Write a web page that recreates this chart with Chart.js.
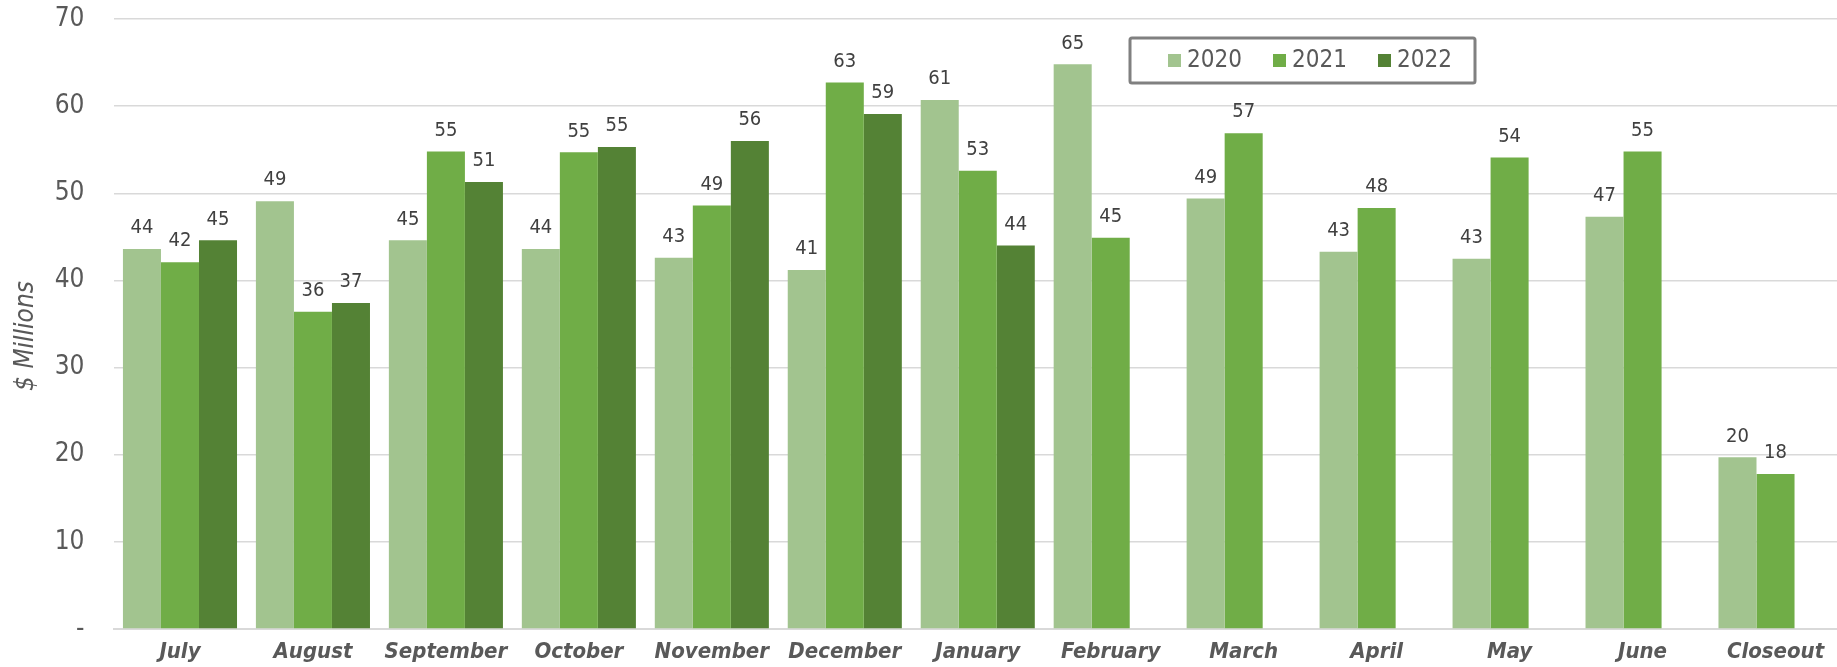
<!DOCTYPE html>
<html>
<head>
<meta charset="utf-8">
<script src="https://cdn.jsdelivr.net/npm/chart.js@4/dist/chart.umd.min.js"></script>
<style>
  html, body { margin: 0; padding: 0; background: #fff; overflow: hidden; }
  #wrap { width: 1842px; height: 667px; }
</style>
</head>
<body>
<div id="wrap"><canvas id="revenueChart"></canvas></div>
<script>
// Monthly collections, $ millions
var months = ['July', 'August', 'September', 'October', 'November', 'December',
  'January', 'February', 'March', 'April', 'May', 'June', 'Closeout'];
var fy2020 = [43.6, 49.1, 44.6, 43.6, 42.6, 41.2, 60.7, 64.8, 49.4, 43.3, 42.5, 47.3, 19.7];
var fy2021 = [42.1, 36.4, 54.8, 54.7, 48.6, 62.7, 52.6, 44.9, 56.9, 48.3, 54.1, 54.8, 17.8];
var fy2022 = [44.6, 37.4, 51.3, 55.3, 56.0, 59.1, 44.0, null, null, null, null, null, null];
var yTicks = [0, 10, 20, 30, 40, 50, 60, 70];

var FONT = '"DejaVu Sans Condensed", "DejaVu Sans", sans-serif';
var NUM_FONT = '"Liberation Sans Narrow", "DejaVu Sans Condensed", sans-serif';
var GREY = '#595959';

// value labels above each bar
var barLabels = {
  id: 'barLabels',
  afterDatasetsDraw: function (chart) {
    var ctx = chart.ctx;
    ctx.save();
    ctx.font = '20px ' + NUM_FONT;
    ctx.fillStyle = '#404040';
    ctx.textAlign = 'center';
    ctx.textBaseline = 'bottom';
    chart.data.datasets.forEach(function (ds, i) {
      chart.getDatasetMeta(i).data.forEach(function (bar, j) {
        var v = ds.data[j];
        if (v === null || v === undefined) return;
        ctx.fillText(Math.round(v), bar.x, bar.y - 11);
      });
    });
    ctx.restore();
  }
};

// boxed legend inside the plot and the rotated y title
var boxLegend = {
  id: 'boxLegend',
  afterDraw: function (chart) {
    var ctx = chart.ctx;
    ctx.save();
    ctx.strokeStyle = '#808080';
    ctx.lineWidth = 3;
    ctx.beginPath();
    ctx.roundRect(1130, 38, 345, 45, 2);
    ctx.stroke();
    ctx.font = '24px ' + NUM_FONT;
    ctx.textBaseline = 'middle';
    ctx.textAlign = 'left';
    chart.data.datasets.forEach(function (ds, i) {
      var x = 1168 + i * 105;
      ctx.fillStyle = ds.backgroundColor;
      ctx.fillRect(x, 54, 13, 13);
      ctx.fillStyle = GREY;
      ctx.fillText(ds.label, x + 19, 61);
    });

    ctx.translate(26, 336);
    ctx.rotate(-Math.PI / 2);
    ctx.textAlign = 'center';
    ctx.textBaseline = 'middle';
    ctx.font = 'italic 26px ' + FONT;
    ctx.fillText('$ Millions', 0, 0);
    ctx.restore();
  }
};

var ctx = document.getElementById('revenueChart');
new Chart(ctx, {
  type: 'bar',
  data: {
    labels: months,
    datasets: [
      { label: '2020', data: fy2020, backgroundColor: '#a2c48f' },
      { label: '2021', data: fy2021, backgroundColor: '#70ad47' },
      { label: '2022', data: fy2022, backgroundColor: '#548235' }
    ]
  },
  options: {
    responsive: true,
    maintainAspectRatio: false,
    animation: false,
    layout: { padding: { top: 19, right: 0, bottom: 0, left: 0 } },
    datasets: {
      bar: {
        categoryPercentage: 0.858,
        barPercentage: 1,
        borderWidth: 0
      }
    },
    scales: {
      x: {
        grid: { display: false },
        border: { color: '#d9d9d9', width: 2 },
        ticks: {
          color: GREY,
          padding: 2,
          font: { family: FONT, size: 22, weight: 'bold', style: 'italic' }
        },
        afterFit: function (scale) { scale.height = 38; }
      },
      y: {
        min: 0,
        max: 70,
        border: { display: false },
        // invisible tick marks keep the labels clear of the plot
        grid: { color: '#d9d9d9', lineWidth: 1.5, tickLength: 29, tickColor: 'rgba(0,0,0,0)' },
        afterBuildTicks: function (scale) {
          scale.ticks = yTicks.map(function (v) { return { value: v }; });
        },
        ticks: {
          color: GREY,
          padding: 0,
          font: { family: NUM_FONT, size: 26 },
          callback: function (v) { return v === 0 ? '-' : v; }
        },
        afterFit: function (scale) { scale.width = 113.5; }
      }
    },
    plugins: {
      legend: { display: false },
      tooltip: { enabled: false }
    }
  },
  plugins: [barLabels, boxLegend]
});
</script>
</body>
</html>
